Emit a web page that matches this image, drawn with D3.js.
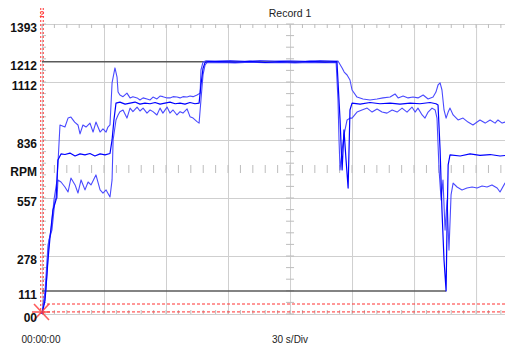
<!DOCTYPE html>
<html>
<head>
<meta charset="utf-8">
<script src="https://cdn.jsdelivr.net/npm/d3@7"></script>
<style>
  body { margin: 0; background: #fff; }
  svg { display: block; font-family: "Liberation Sans", Arial, sans-serif; }
  .grid line { stroke: #cfcfcf; stroke-width: 1; }
  .grid .domain { display: none; }
  .ylab .domain, .ylab line { display: none; }
  .ylab text { font-weight: bold; font-size: 12px; fill: #111; }
</style>
</head>
<body>
<div id="chart"></div>
<script>
// time in seconds, speed in rpm
const yLabels = [1393, 1212, 1112, 836, 557, 278, 111, 0];
const title = "Record 1";
const timeStart = "00:00:00";
const timeDiv = "30 s/Div";
const yName = "RPM";

const upperPoints = [
  [0, 0], [1.5, 115], [2.9, 331], [4.4, 403], [5.8, 548], [7.3, 644], [8.7, 908],
  [11.1, 898], [12.6, 941], [14.0, 946], [15.8, 922], [17.4, 908], [18.4, 865], [19.8, 908],
  [21.3, 898], [23.2, 917], [24.7, 874], [26.1, 922], [28.1, 874], [29.5, 889], [31.0, 874],
  [31.9, 898], [32.9, 908], [33.9, 1110], [35.3, 1182], [36.3, 1138], [36.8, 1066], [37.7, 1052],
  [39.2, 1044], [41.1, 1061], [42.6, 1038], [44.0, 1044], [46.0, 1038], [47.4, 1028], [48.9, 1038],
  [50.8, 1033], [52.3, 1028], [53.7, 1042], [55.6, 1033], [57.1, 1047], [58.5, 1044], [60.5, 1038],
  [61.9, 1038], [63.4, 1044], [65.3, 1042], [66.8, 1038], [68.2, 1044], [70.2, 1042], [71.6, 1047],
  [73.1, 1044], [75.0, 1052], [76.5, 1061], [76.9, 1172], [77.9, 1210], [79.4, 1216],
  [83.7, 1215], [91, 1217], [98.2, 1214], [105.5, 1217], [112.7, 1215], [120, 1216], [127.3, 1214],
  [134.5, 1217], [141.8, 1215], [143.2, 1215], [145.2, 1182], [146.2, 1162], [147.6, 1148],
  [149, 1124], [150, 1076], [152.4, 1042], [155.3, 1033], [158.7, 1028], [162.1, 1033], [165, 1038],
  [168.4, 1042], [170.8, 1057], [172.3, 1038], [174.7, 1047], [177.1, 1038], [179.5, 1042],
  [181.9, 1038], [184.4, 1052], [186.8, 1033], [189.2, 1042], [190.6, 1066], [191.6, 1100],
  [192.6, 1110], [193.5, 1076], [194.5, 980], [195.5, 941], [196.5, 970], [197.4, 989], [198.9, 956],
  [201.3, 932], [203.7, 941], [206.1, 922], [208.5, 908], [210.5, 922], [211.9, 932], [214.4, 917],
  [216.8, 932], [219.2, 917], [220.6, 932], [222.6, 917], [224, 922], [226, 920]
];

const mainPoints = [
  [0, 0], [1.5, 67], [2.9, 259], [3.9, 370], [5.3, 500], [6.8, 548], [7.7, 740], [9.2, 769],
  [11.1, 766], [13.5, 773], [16.0, 759], [18.4, 769], [20.8, 764], [23.2, 771], [25.6, 759],
  [28.1, 769], [30.5, 764], [32.9, 771], [33.9, 836], [34.8, 932], [35.8, 1013], [37.7, 1018],
  [40.2, 1008], [42.6, 1013], [45, 1018], [47.4, 1008], [49.8, 1013], [52.3, 1010], [54.7, 1016],
  [57.1, 1008], [59.5, 1013], [61.9, 1018], [64.4, 1010], [66.8, 1013], [69.2, 1008], [71.6, 1016],
  [74, 1010], [76, 1013], [76.9, 1100], [77.9, 1180], [78.9, 1208], [80.3, 1212], [86.1, 1212],
  [93.4, 1210], [100.6, 1213], [107.9, 1208], [115.2, 1212], [122.4, 1210], [129.7, 1213],
  [136.9, 1210], [142.7, 1212], [144.2, 932], [145.2, 692], [146.1, 884], [147.1, 740], [148.1, 605],
  [149, 980], [150, 1013], [153.9, 1008], [158.7, 1016], [163.5, 1010], [168.4, 1013], [173.2, 1008],
  [178.1, 1013], [182.9, 1010], [187.7, 1016], [190.6, 1010], [191.6, 1004], [192.6, 788],
  [193.5, 500], [194.5, 259], [195.5, 111], [196, 452], [196.5, 716], [197.4, 764], [202.3, 759],
  [207.1, 769], [211.9, 762], [216.8, 766], [221.6, 759], [226.5, 764]
];

const lowerPoints = [
  [0, 0], [1.9, 115], [3.4, 355], [4.8, 403], [6.3, 548], [7.3, 557], [7.7, 644], [9.2, 634],
  [11.1, 610], [12.6, 586], [14.0, 653], [16.0, 620], [17.4, 581], [18.9, 644], [20.8, 596],
  [22.3, 634], [23.7, 620], [26.1, 668], [28.1, 596], [29.5, 581], [31.0, 596], [32.9, 562],
  [33.9, 644], [34.4, 836], [35.8, 932], [36.8, 956], [37.7, 972], [39.2, 980], [41.1, 941],
  [42.6, 989], [44.0, 972], [46.0, 994], [47.4, 975], [48.9, 989], [50.8, 965], [52.3, 980],
  [53.7, 972], [55.6, 956], [57.1, 989], [58.5, 965], [60.5, 994], [61.9, 965], [63.4, 980],
  [65.3, 956], [66.8, 972], [68.2, 965], [70.2, 985], [71.6, 948], [73.1, 941], [75.0, 924],
  [76, 917], [76.9, 1028], [77.9, 1148], [78.9, 1196], [79.8, 1207], [86.1, 1208], [93.4, 1206],
  [100.6, 1209], [107.9, 1207], [115.2, 1208], [122.4, 1206], [129.7, 1208], [136.9, 1207],
  [142.3, 1208], [143.2, 1028], [143.7, 836], [144.2, 692], [145.2, 788], [146.1, 860], [147.6, 932],
  [149, 941], [150, 941], [152.4, 970], [154.8, 980], [157.3, 989], [159.7, 970], [162.1, 985],
  [164.5, 970], [166.9, 965], [169.4, 980], [171.8, 970], [174.2, 989], [176.6, 970], [179, 994],
  [180.5, 970], [181.9, 989], [183.9, 956], [185.3, 941], [186.8, 970], [188.7, 989], [190.2, 980],
  [191.1, 941], [192.1, 692], [193.1, 548], [194, 644], [195, 403], [196, 548], [196.9, 307],
  [197.9, 572], [198.9, 629], [200.8, 610], [203.2, 596], [205.6, 605], [208.1, 610], [210.5, 605],
  [212.9, 615], [215.3, 610], [217.7, 620], [220.2, 605], [221.6, 586], [224, 629], [226.5, 615]
];

// max / min markers: [rpm, start s, end s]
const refLines = [[1212, 0, 143], [111, 0, 195.5]];
// red cursors
const cursorTimes = [-0.6, 0.6];
const cursorRpms = [10, 48];

const W = 505, H = 346;
const margin = { top: 24, right: 0, bottom: 32, left: 42 };
const pw = W - margin.left - margin.right;
const ph = H - margin.top - margin.bottom;

const x = d3.scaleLinear().domain([0, 224]).range([margin.left, W]);
const y = d3.scaleLinear().domain([0, 1393]).range([margin.top + ph, margin.top]);

const svg = d3.select("#chart").append("svg")
  .attr("width", W)
  .attr("height", H);

// grid
svg.append("g")
  .attr("class", "grid")
  .attr("transform", "translate(0," + (margin.top + ph) + ")")
  .call(d3.axisBottom(x).tickValues(d3.range(0, 225, 30)).tickSize(-ph).tickFormat(""));

svg.append("g")
  .attr("class", "grid")
  .attr("transform", "translate(" + margin.left + ",0)")
  .call(d3.axisLeft(y).tickValues(d3.range(0, 6).map(k => 1393 * k / 5)).tickSize(-pw).tickFormat(""));

// minor ticks: top, bottom, left and centre cross
const minorT = d3.range(0, 225, 6);
const minorR = d3.range(0, 26).map(k => 1393 * k / 25);
const tickCol = "#bdbdbd";
const centreT = 120, centreR = 1393 / 2;

const ticks = svg.append("g").attr("stroke", tickCol).attr("stroke-width", 1);
ticks.selectAll(".tt").data(minorT).enter().append("line")
  .attr("x1", d => x(d)).attr("x2", d => x(d))
  .attr("y1", y(1393)).attr("y2", y(1393) + 4);
ticks.selectAll(".tb").data(minorT).enter().append("line")
  .attr("x1", d => x(d)).attr("x2", d => x(d))
  .attr("y1", y(0)).attr("y2", y(0) - 4);
ticks.selectAll(".tl").data(minorR).enter().append("line")
  .attr("x1", x(0)).attr("x2", x(0) + 4)
  .attr("y1", d => y(d)).attr("y2", d => y(d));
ticks.selectAll(".tc").data(minorT).enter().append("line")
  .attr("x1", d => x(d)).attr("x2", d => x(d))
  .attr("y1", y(centreR) - 4).attr("y2", y(centreR) + 4);
ticks.selectAll(".tv").data(minorR).enter().append("line")
  .attr("x1", x(centreT) - 4).attr("x2", x(centreT) + 4)
  .attr("y1", d => y(d)).attr("y2", d => y(d));

// red cursors
const red = svg.append("g").attr("stroke", "#ff3030").attr("stroke-width", 1).attr("fill", "none");
red.selectAll(".cr").data(cursorRpms).enter().append("line")
  .attr("x1", x(0)).attr("x2", W)
  .attr("y1", d => y(d)).attr("y2", d => y(d))
  .attr("stroke-dasharray", "3,2");
red.selectAll(".ct").data(cursorTimes).enter().append("line")
  .attr("x1", d => x(d)).attr("x2", d => x(d))
  .attr("y1", 8).attr("y2", y(0))
  .attr("stroke-dasharray", "2,2");

// reference max/min lines
svg.selectAll(".ref").data(refLines).enter().append("line")
  .attr("x1", d => x(d[1])).attr("x2", d => x(d[2]))
  .attr("y1", d => y(d[0])).attr("y2", d => y(d[0]))
  .attr("stroke", "#5a5a5a").attr("stroke-width", 1.5);

// traces
const line = d3.line().x(d => x(d[0])).y(d => y(d[1]));
const plot = svg.append("g");
plot.append("path").datum(upperPoints)
  .attr("d", line).attr("fill", "none")
  .attr("stroke", "#4a4aff").attr("stroke-width", 1.1).attr("stroke-linejoin", "round");
plot.append("path").datum(lowerPoints)
  .attr("d", line).attr("fill", "none")
  .attr("stroke", "#4a4aff").attr("stroke-width", 1.1).attr("stroke-linejoin", "round");
plot.append("path").datum(mainPoints)
  .attr("d", line).attr("fill", "none")
  .attr("stroke", "#0000ff").attr("stroke-width", 1.2).attr("stroke-linejoin", "round");

// cursor handle and origin marker
svg.append("text")
  .attr("x", x(0)).attr("y", 17)
  .attr("text-anchor", "middle")
  .attr("font-size", 9).attr("fill", "#ff3030")
  .text("2");
const cx = x(0) - 1, cy = y(0) - 2;
const star = svg.append("g").attr("stroke", "#ff4040").attr("stroke-width", 1.6).attr("opacity", 0.85);
[[-7, -8, 8, 8], [-7, 8, 8, -8], [-9, 0, 9, 0]].forEach(s => {
  star.append("line")
    .attr("x1", cx + s[0]).attr("y1", cy + s[1])
    .attr("x2", cx + s[2]).attr("y2", cy + s[3]);
});

// y labels
svg.append("g")
  .attr("class", "ylab")
  .attr("transform", "translate(" + margin.left + ",0)")
  .call(d3.axisLeft(y).tickValues(yLabels).tickSize(0).tickPadding(5)
    .tickFormat(d => d === 0 ? "00" : d))
  .selectAll("text").attr("dy", "0.62em");

svg.append("text")
  .attr("x", 37).attr("y", y(centreR) + 7)
  .attr("text-anchor", "end")
  .attr("font-weight", "bold").attr("font-size", 12).attr("fill", "#111")
  .text(yName);

// title and footer
svg.append("text")
  .attr("x", x(centreT)).attr("y", 17)
  .attr("text-anchor", "middle")
  .attr("font-size", 10.5).attr("fill", "#222")
  .text(title);
svg.append("text")
  .attr("x", x(centreT)).attr("y", 343)
  .attr("text-anchor", "middle")
  .attr("font-size", 10).attr("fill", "#222")
  .text(timeDiv);
svg.append("text")
  .attr("x", 41).attr("y", 343)
  .attr("text-anchor", "middle")
  .attr("font-size", 10).attr("fill", "#222")
  .text(timeStart);
</script>
</body>
</html>
